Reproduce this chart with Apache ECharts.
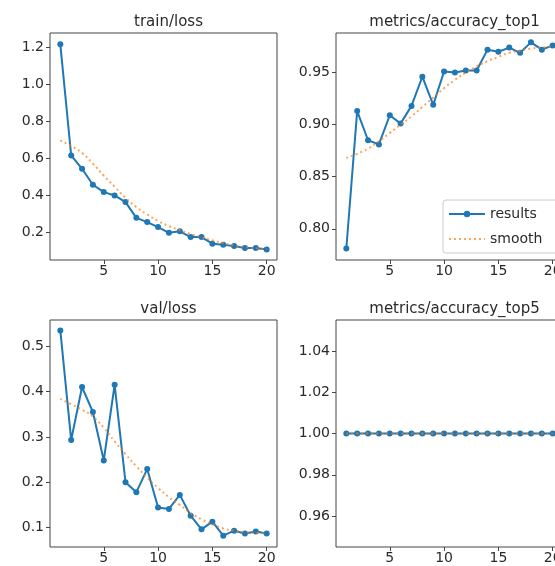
<!DOCTYPE html>
<html>
<head>
<meta charset="utf-8">
<script src="https://cdn.jsdelivr.net/npm/echarts@6/dist/echarts.min.js"></script>
<style>
  html, body { margin: 0; padding: 0; overflow: hidden; background: #fff; }
  #chart { width: 570px; height: 566px; }
</style>
</head>
<body>
<div id="chart"></div>
<script>
const epochs = [1, 2, 3, 4, 5, 6, 7, 8, 9, 10, 11, 12, 13, 14, 15, 16, 17, 18, 19, 20];

const trainLoss = [1.215, 0.614, 0.542, 0.456, 0.416, 0.398, 0.362, 0.277, 0.254, 0.227,
  0.196, 0.204, 0.173, 0.173, 0.137, 0.132, 0.124, 0.114, 0.114, 0.106];
const trainLossSmooth = [0.695, 0.665, 0.628, 0.57, 0.505, 0.445, 0.385, 0.335, 0.295, 0.26,
  0.232, 0.21, 0.19, 0.172, 0.155, 0.14, 0.128, 0.119, 0.112, 0.108];

const accTop1 = [0.781, 0.913, 0.885, 0.881, 0.909, 0.901, 0.918, 0.946, 0.919, 0.951,
  0.950, 0.952, 0.952, 0.972, 0.970, 0.974, 0.969, 0.979, 0.972, 0.976];
const accTop1Smooth = [0.868, 0.872, 0.877, 0.884, 0.892, 0.900, 0.908, 0.917, 0.926, 0.935,
  0.943, 0.950, 0.956, 0.961, 0.965, 0.969, 0.971, 0.973, 0.974, 0.975];

const valLoss = [0.535, 0.293, 0.410, 0.355, 0.248, 0.415, 0.200, 0.178, 0.229, 0.144,
  0.141, 0.172, 0.126, 0.096, 0.113, 0.082, 0.093, 0.087, 0.091, 0.087];
const valLossSmooth = [0.384, 0.372, 0.36, 0.345, 0.32, 0.29, 0.262, 0.235, 0.21, 0.187,
  0.167, 0.15, 0.132, 0.118, 0.107, 0.098, 0.093, 0.09, 0.088, 0.087];

const accTop5 = [1, 1, 1, 1, 1, 1, 1, 1, 1, 1, 1, 1, 1, 1, 1, 1, 1, 1, 1, 1];
const accTop5Smooth = [1, 1, 1, 1, 1, 1, 1, 1, 1, 1, 1, 1, 1, 1, 1, 1, 1, 1, 1, 1];

const xTicks = [5, 10, 15, 20];

// one entry per subplot
const panels = [
  { title: 'train/loss', y: trainLoss, ys: trainLossSmooth, left: 50, top: 33, ymin: 0.049, ymax: 1.276,
    yTicks: [0.2, 0.4, 0.6, 0.8, 1.0, 1.2], dec: 1 },
  { title: 'metrics/accuracy_top1', y: accTop1, ys: accTop1Smooth, left: 336, top: 33, ymin: 0.770, ymax: 0.988,
    yTicks: [0.80, 0.85, 0.90, 0.95], dec: 2 },
  { title: 'val/loss', y: valLoss, ys: valLossSmooth, left: 50, top: 320, ymin: 0.057, ymax: 0.558,
    yTicks: [0.1, 0.2, 0.3, 0.4, 0.5], dec: 1 },
  { title: 'metrics/accuracy_top5', y: accTop5, ys: accTop5Smooth, left: 336, top: 320, ymin: 0.945, ymax: 1.055,
    yTicks: [0.96, 0.98, 1.00, 1.02, 1.04], dec: 2 }
];

const W = 227, H = 227;
const font = 'DejaVu Sans';
const textColor = '#2a2a2a';
const blue = '#1f77b4';
const orange = '#ff7f0e';

const pair = arr => epochs.map((e, i) => [e, arr[i]]);

const option = {
  animation: false,
  backgroundColor: '#fff',
  title: panels.map(p => ({
    text: p.title,
    left: p.left + W / 2,
    top: p.top - 23,
    textAlign: 'center',
    textStyle: { fontFamily: font, fontSize: 15, fontWeight: 'normal', color: textColor }
  })),
  legend: {
    data: ['results', { name: 'smooth', itemStyle: { opacity: 0 } }],
    orient: 'vertical',
    left: 443,
    top: 200,
    itemWidth: 36,
    itemHeight: 8,
    itemGap: 11,
    padding: [7, 30, 7, 5],
    borderColor: '#cccccc',
    borderWidth: 1,
    borderRadius: 3,
    backgroundColor: 'rgba(255,255,255,0.8)',
    textStyle: { fontFamily: font, fontSize: 14, color: textColor }
  },
  grid: panels.map(p => ({
    left: p.left, top: p.top, width: W, height: H,
    show: true, borderColor: '#444', borderWidth: 1, backgroundColor: '#fff'
  })),
  xAxis: panels.map((p, i) => ({
    type: 'value', gridIndex: i, min: 0.05, max: 20.95,
    splitLine: { show: false },
    axisLine: { show: false },
    axisTick: { show: true, length: 4, lineStyle: { color: '#444' }, customValues: xTicks },
    axisLabel: { customValues: xTicks, margin: 4, fontFamily: font, fontSize: 14, color: textColor }
  })),
  yAxis: panels.map((p, i) => ({
    type: 'value', gridIndex: i, min: p.ymin, max: p.ymax,
    splitLine: { show: false },
    axisLine: { show: false },
    axisTick: { show: true, length: 4, lineStyle: { color: '#444' }, customValues: p.yTicks },
    axisLabel: {
      customValues: p.yTicks, margin: 6, fontFamily: font, fontSize: 14, color: textColor,
      formatter: v => v.toFixed(p.dec)
    }
  })),
  series: panels.flatMap((p, i) => [
    {
      name: 'results', type: 'line', xAxisIndex: i, yAxisIndex: i,
      data: pair(p.y),
      symbol: 'circle', symbolSize: 6, showSymbol: true,
      itemStyle: { color: blue },
      lineStyle: { color: blue, width: 2 },
      z: 2
    },
    {
      name: 'smooth', type: 'line', xAxisIndex: i, yAxisIndex: i,
      data: pair(p.ys),
      symbol: 'none', smooth: true,
      itemStyle: { color: orange },
      lineStyle: { color: orange, width: 2, type: [2, 3], opacity: 0.7 },
      z: 3
    }
  ])
};

const chart = echarts.init(document.getElementById('chart'));
chart.setOption(option);
</script>
</body>
</html>
